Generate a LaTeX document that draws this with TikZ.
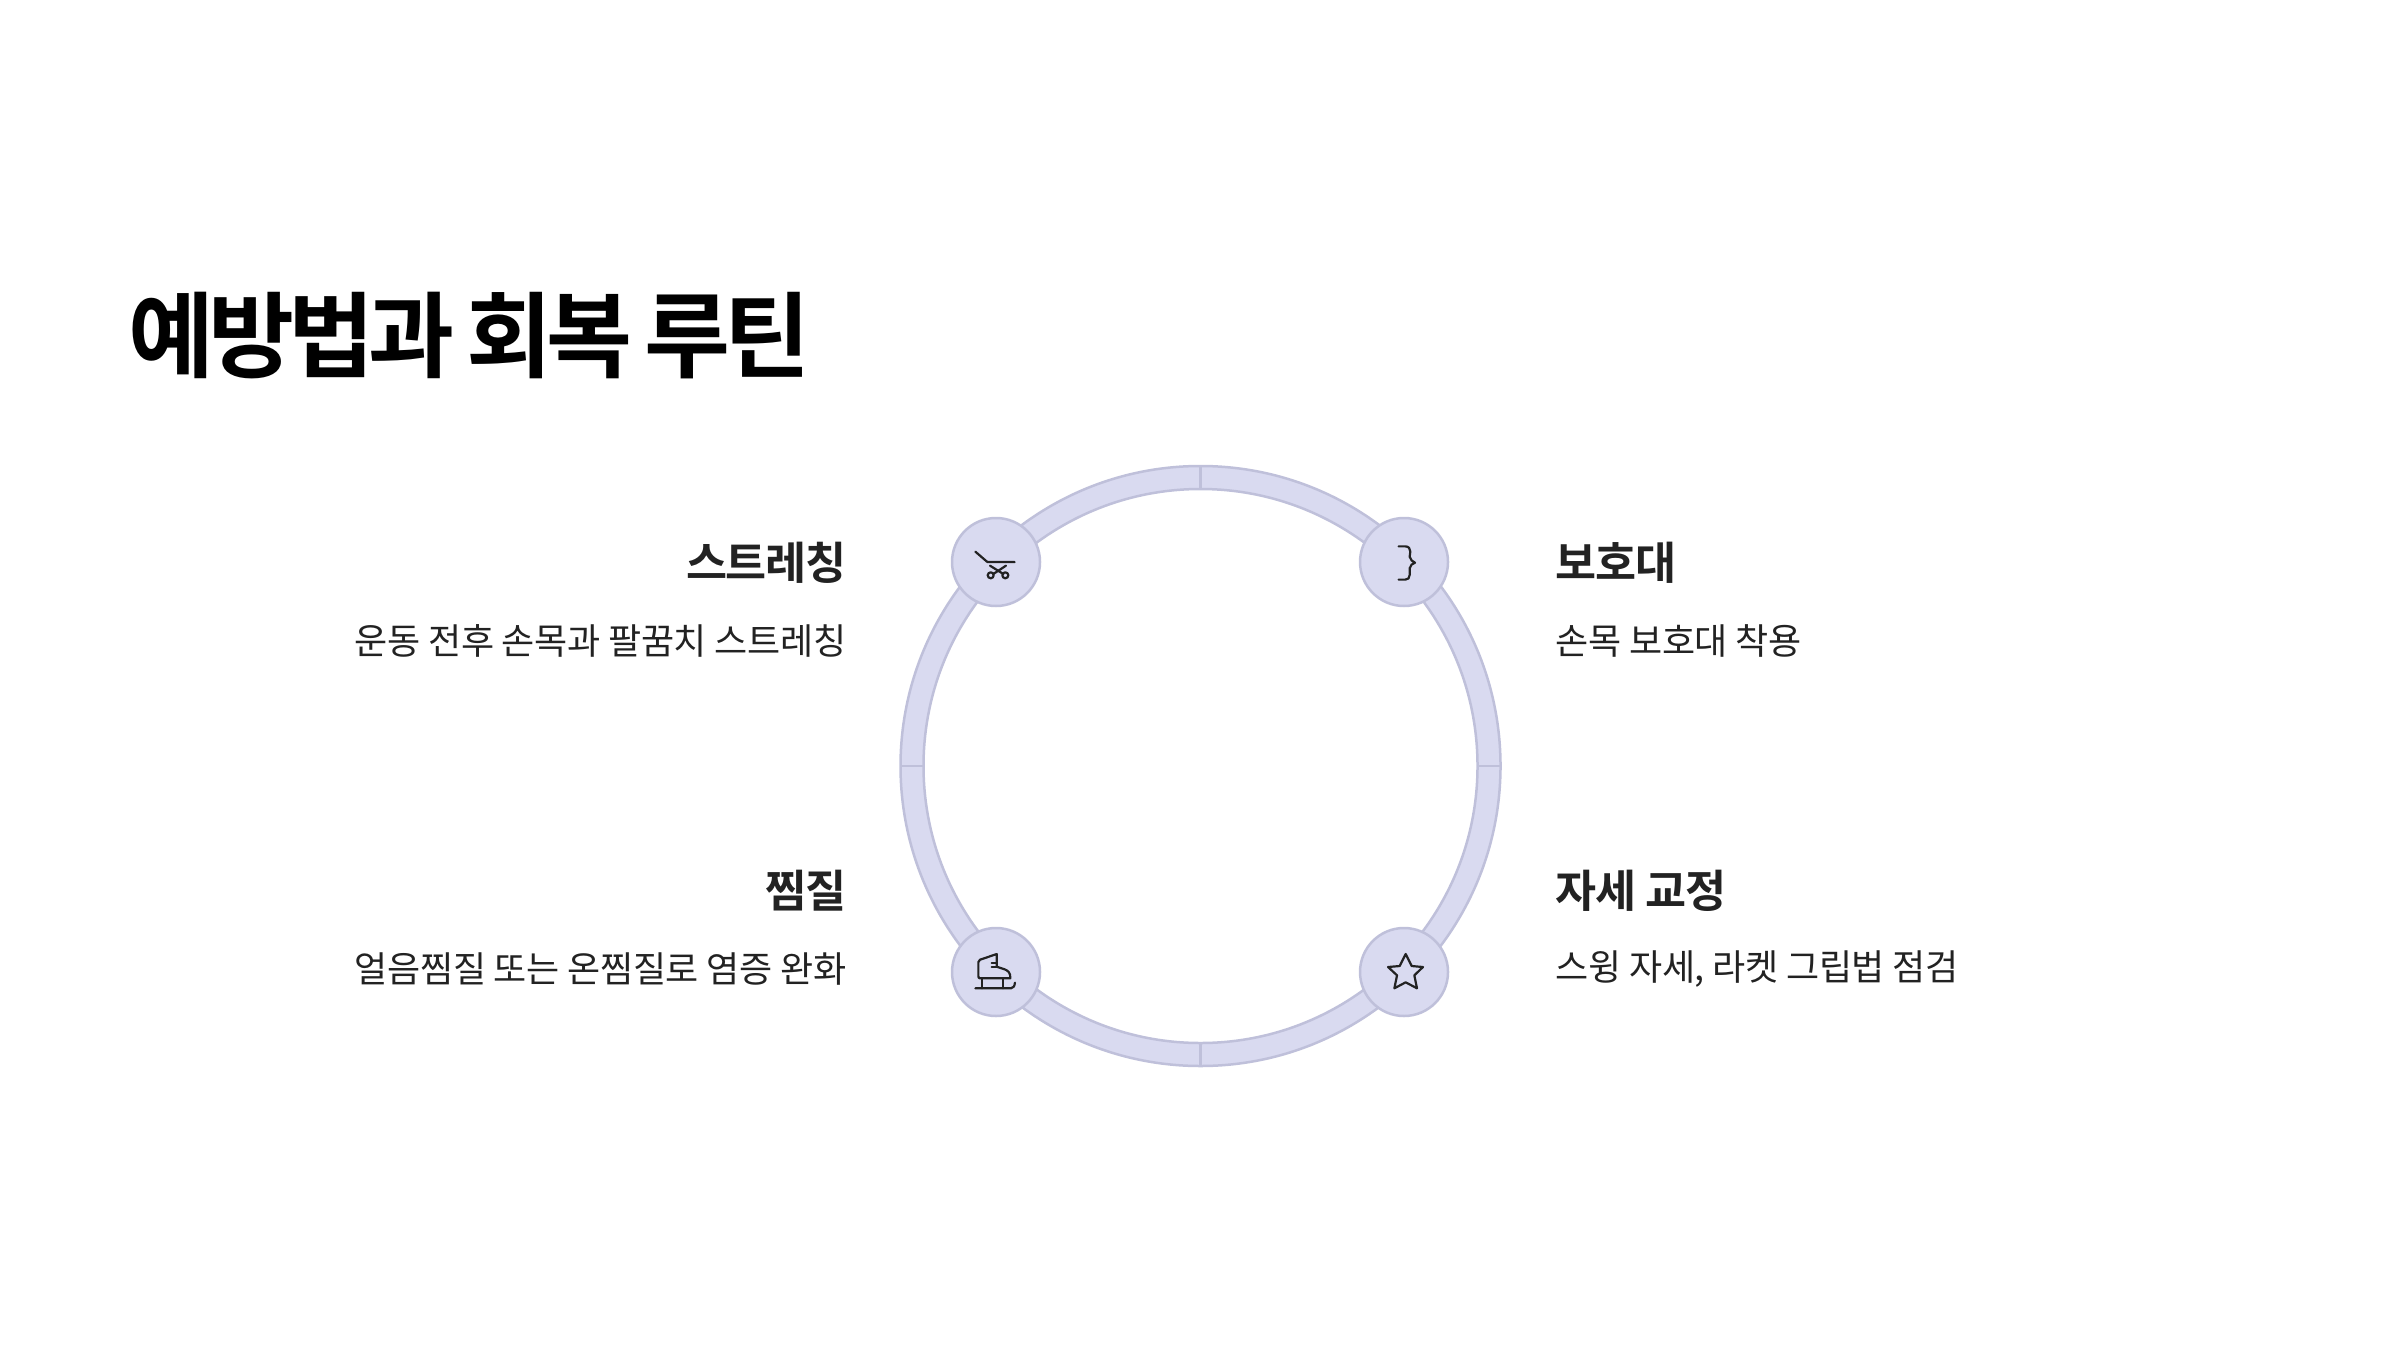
\documentclass[tikz,border=0pt]{standalone}
\usepackage{fontspec}
\setmainfont{Noto Sans CJK KR}
\newfontfamily\titlefont[LetterSpace=-6.5,WordSpace=0.8]{Noto Sans CJK KR Bold}
\newfontfamily\headfont[LetterSpace=-3.0]{Noto Sans CJK KR Bold}
\newfontfamily\descfont[LetterSpace=-1.0]{Noto Sans CJK KR}
\usetikzlibrary{positioning, calc}
\definecolor{ringfill}{HTML}{D9DAF0}
\definecolor{ringline}{HTML}{BFC0DA}
\definecolor{inktext}{HTML}{222222}

\begin{document}
\begin{tikzpicture}
            \tikzstyle{badge} = [circle, draw=ringline, line width=0.025cm, fill=ringfill, minimum size=0.88cm, inner sep=0pt]
            \tikzstyle{ring} = [draw=ringline, line width=0.025cm, fill=ringfill, even odd rule]
            \tikzstyle{tick} = [ringline, line width=0.025cm]
            \tikzstyle{icon} = [inktext, line width=0.022cm, line join=round, line cap=round, x=0.00333cm, y=-0.00333cm]
            \tikzstyle{head} = [inner sep=0pt, text=inktext, font={\headfont\fontsize{12.7pt}{15pt}\selectfont}]
            \tikzstyle{desc} = [inner sep=0pt, text=inktext, font={\descfont\fontsize{10.25pt}{13pt}\selectfont}]

            \useasboundingbox (0,0) rectangle (24,13.5);

            \node[inner sep=0pt, anchor=west, font={\titlefont\fontsize{26.6pt}{32pt}\selectfont}] (title) at (1.28,10.14) {예방법과 회복 루틴};

            % ring
            \coordinate (c) at (12.005,5.84);
            \draw[ring] (c) circle (3.0) (c) circle (2.77);
            \foreach \a in {0,90,180,270}
                \draw[tick] ($(c)+(\a:2.77)$) -- ($(c)+(\a:3.0)$);

            \node[badge] (stretch) at (9.96,7.88) {};
            \node[badge] (guard) at (14.04,7.88) {};
            \node[badge] (ice) at (9.96,3.78) {};
            \node[badge] (pose) at (14.04,3.78) {};

            % icons
            \begin{scope}[icon, shift={(stretch.center)}]
                \draw (-62,-31) -- (-26,0) -- (56,0);
                \draw (-18,11) -- (22,36);
                \draw (30,11) -- (-8,36);
                \draw (-16,40) circle (9);
                \draw (28,40) circle (9);
            \end{scope}
            \begin{scope}[icon, shift={(guard.center)}]
                \draw (-16,-47) -- (4,-47) .. controls (14,-47) and (19,-40) .. (19,-31) -- (17,-16) .. controls (19,-8) and (25,0) .. (33,2) .. controls (25,4) and (19,10) .. (17,19) -- (17,39) .. controls (17,48) and (12,53) .. (4,53) -- (-16,53);
            \end{scope}
            \begin{scope}[icon, shift={(ice.center)}]
                \draw (2,-54) -- (2,-16) -- (26,-8) .. controls (36,-4) and (44,2) .. (43,19) -- (-48,19) .. controls (-52,19) and (-53,16) .. (-53,13) -- (-53,-30) .. controls (-53,-34) and (-51,-36) .. (-48,-37) -- cycle;
                \draw (-13,-28) -- (2,-28);
                \draw (-13,-14) -- (2,-14);
                \draw (-41,19) -- (-41,49);
                \draw (20,19) -- (20,49);
                \draw (-62,49) -- (45,49) .. controls (52,49) and (56,42) .. (57,32);
            \end{scope}
            \begin{scope}[icon, shift={(pose.center)}]
                \draw (5,-54) -- (23,-18) -- (57,-15) -- (31,10) -- (39,49) -- (5,31) -- (-29,49) -- (-21,10) -- (-48,-15) -- (-13,-18) -- cycle;
            \end{scope}

            % labels
            \node[head, anchor=east] (stretchhead) at (8.47,7.87) {스트레칭};
            \node[desc, anchor=east] (stretchdesc) at (8.47,7.09) {운동 전후 손목과 팔꿈치 스트레칭};
            \node[head, anchor=west] (guardhead) at (15.55,7.87) {보호대};
            \node[desc, anchor=west] (guarddesc) at (15.55,7.09) {손목 보호대 착용};
            \node[head, anchor=east] (icehead) at (8.47,4.59) {찜질};
            \node[desc, anchor=east] (icedesc) at (8.47,3.81) {얼음찜질 또는 온찜질로 염증 완화};
            \node[head, anchor=west] (posehead) at (15.55,4.59) {자세 교정};
            \node[desc, anchor=west] (posedesc) at (15.55,3.81) {스윙 자세, 라켓 그립법 점검};
        \end{tikzpicture}
\end{document}
